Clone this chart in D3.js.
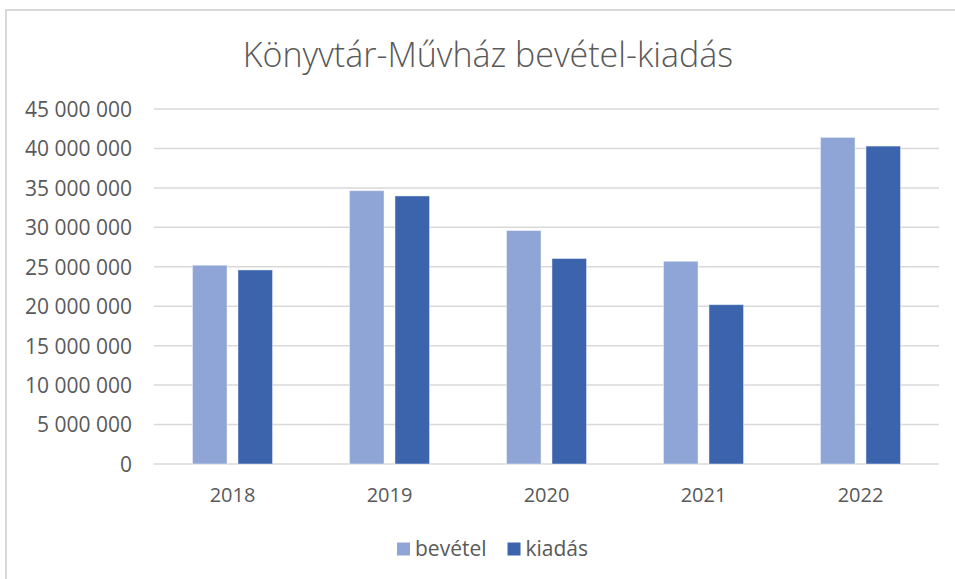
<!DOCTYPE html>
<html>
<head>
<meta charset="utf-8">
<script src="https://cdn.jsdelivr.net/npm/d3@7"></script>
<style>
  html, body { margin: 0; padding: 0; background: #fff; }
  svg { display: block; }
  text { font-family: "Open Sans", "Noto Sans", sans-serif; }
</style>
</head>
<body>
<div id="chart"></div>
<script>
// Könyvtár-Művház bevétel/kiadás, grouped columns

const years = ['2018', '2019', '2020', '2021', '2022'];
const seriesNames = ['bevétel', 'kiadás'];
const bevetel = [25200000, 34650000, 29600000, 25700000, 41400000];
const kiadas = [24600000, 33980000, 26050000, 20200000, 40300000];
const yTicks = [0, 5000000, 10000000, 15000000, 20000000, 25000000, 30000000, 35000000, 40000000, 45000000];

const COLORS = { 'bevétel': '#8fa5d5', 'kiadás': '#3c64ad' };

const W = 955, H = 579;
const plot = { left: 154, right: 939, top: 109, bottom: 464 };

const huLocale = d3.formatLocale({ decimal: ',', thousands: ' ', grouping: [3], currency: ['', ' Ft'] });
const fmt = huLocale.format(',d');

const svg = d3.select('#chart').append('svg')
    .attr('width', W)
    .attr('height', H)
    .attr('viewBox', [0, 0, W, H]);

// chart frame (only top + left edges visible in the screenshot)
svg.append('line').attr('x1', 5).attr('y1', 10).attr('x2', W).attr('y2', 10)
    .attr('stroke', '#d9d9d9').attr('stroke-width', 2);
svg.append('line').attr('x1', 6).attr('y1', 10).attr('x2', 6).attr('y2', H)
    .attr('stroke', '#d9d9d9').attr('stroke-width', 2);

const x0 = d3.scaleBand()
    .domain(years)
    .range([plot.left, plot.right])
    .paddingInner(0.49)
    .paddingOuter(0.245);

const x1 = d3.scaleBand()
    .domain(seriesNames)
    .range([0, x0.bandwidth()])
    .paddingInner(0.24);

const y = d3.scaleLinear()
    .domain([0, 45000000])
    .range([plot.bottom, plot.top]);

// gridlines
svg.append('g')
    .selectAll('line')
    .data(yTicks)
    .join('line')
    .attr('x1', plot.left)
    .attr('x2', plot.right)
    .attr('y1', d => y(d))
    .attr('y2', d => y(d))
    .attr('stroke', '#d9d9d9')
    .attr('stroke-width', 1.5);

// y axis labels
const yAxis = svg.append('g')
    .attr('transform', `translate(${plot.left - 22},0)`)
    .call(d3.axisLeft(y).tickValues(yTicks).tickFormat(fmt).tickSize(0).tickPadding(0));
yAxis.select('.domain').remove();
yAxis.selectAll('text')
    .attr('fill', '#595959')
    .attr('font-size', '21px')
    .attr('dy', '0.35em');

// x axis labels
const xAxis = svg.append('g')
    .attr('transform', `translate(0,${plot.bottom})`)
    .call(d3.axisBottom(x0).tickSize(0).tickPadding(0));
xAxis.select('.domain').remove();
xAxis.selectAll('text')
    .attr('fill', '#595959')
    .attr('font-size', '20px')
    .attr('y', 31)
    .attr('dy', '0.35em');

// bars
const rows = years.map((yr, i) => ({ year: yr, values: [
    { key: 'bevétel', value: bevetel[i] },
    { key: 'kiadás', value: kiadas[i] }
] }));

svg.append('g')
    .selectAll('g')
    .data(rows)
    .join('g')
    .attr('transform', d => `translate(${x0(d.year)},0)`)
    .selectAll('rect')
    .data(d => d.values)
    .join('rect')
    .attr('x', d => x1(d.key))
    .attr('y', d => y(d.value))
    .attr('width', x1.bandwidth())
    .attr('height', d => y(0) - y(d.value))
    .attr('fill', d => COLORS[d.key])
    .attr('stroke', '#ffffff')
    .attr('stroke-opacity', 0.45)
    .attr('stroke-width', 1);

// title
svg.append('text')
    .attr('x', 488)
    .attr('y', 55)
    .attr('dy', '0.35em')
    .attr('text-anchor', 'middle')
    .attr('fill', '#595959')
    .attr('font-size', '34px')
    .attr('font-weight', 300)
    .text('Könyvtár-Művház bevétel-kiadás');

// legend
const legend = svg.append('g').attr('transform', 'translate(397,549)');
let lx = 0;
seriesNames.forEach(name => {
    const item = legend.append('g').attr('transform', `translate(${lx},0)`);
    item.append('rect')
        .attr('x', 0).attr('y', -6.5)
        .attr('width', 13).attr('height', 13)
        .attr('fill', COLORS[name]);
    const t = item.append('text')
        .attr('x', 18)
        .attr('dy', '0.35em')
        .attr('fill', '#595959')
        .attr('font-size', '21px')
        .text(name);
    lx += 18 + t.node().getComputedTextLength() + 21;
});
</script>
</body>
</html>
